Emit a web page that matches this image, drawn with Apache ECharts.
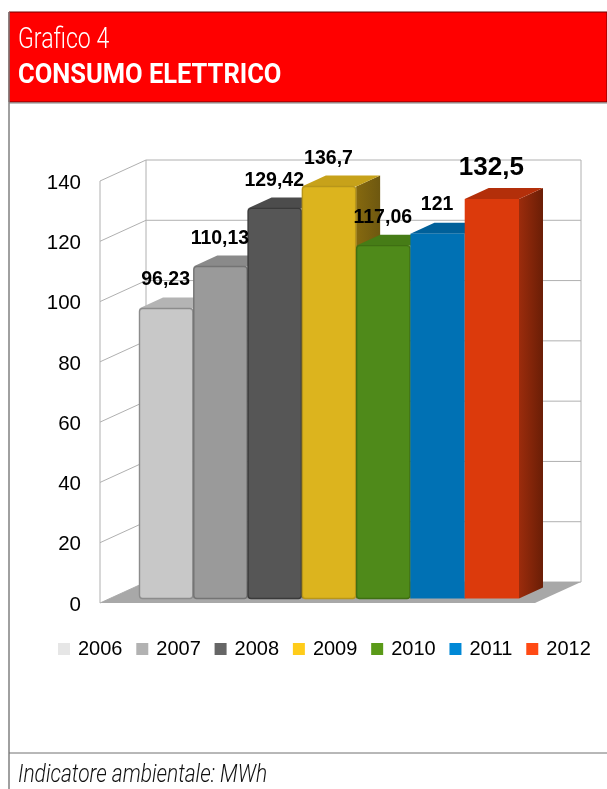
<!DOCTYPE html>
<html>
<head>
<meta charset="utf-8">
<title>Consumo elettrico</title>
<style>
html,body{margin:0;padding:0;background:#fff}
#chart{width:607px;height:789px}
</style>
<script src="https://cdn.jsdelivr.net/npm/echarts@6/dist/echarts.min.js"></script>
</head>
<body>
<div id="chart"></div>
<script>
// Annual electricity use in MWh
const years = ['2006', '2007', '2008', '2009', '2010', '2011', '2012'];
const consumption = [96.23, 110.13, 129.42, 136.7, 117.06, 121, 132.5];
const valueTicks = [0, 20, 40, 60, 80, 100, 120, 140];

// Face colours of each cuboid
const legendColors = ['#e6e6e6', '#b2b2b2', '#666666', '#ffcc1a', '#5a9a18', '#0088d6', '#ff4a14'];
const frontColors = ['#c8c8c8', '#9a9a9a', '#565656', '#dcb41e', '#4f8a1a', '#0071b4', '#dc3a0c'];
const topColors = ['#b4b4b4', '#8a8a8a', '#4c4c4c', '#c7a21a', '#467c16', '#00609a', '#b32f0a'];
const sideStart = ['#8a8a8a', '#707070', '#3c3c3c', '#86690f', '#39660f', '#00507f', '#9c2c0c'];
const sideEnd = ['#707070', '#5a5a5a', '#2e2e2e', '#6e5810', '#2d520c', '#003f66', '#6a1e06'];
const edgeColors = ['#8c8c8c', '#747474', '#3a3a3a', '#b8961a', '#3f6f12', null, null];

// Distance of each value label above its bar, in pixels
const labelLift = [33, 32, 32, 32, 33, 34, 36];

// Oblique projection used for the walls, the floor and the bars
const WALL_LEFT_GAP = 39, WALL_RIGHT_GAP = 16;
const WALL_DX = 46, WALL_DY = -21;
const BAR_DX = 24, BAR_DY = -11, BAR_LIFT = 4.5;
const WALL_COLOR = '#b0b0b0', FLOOR_COLOR = '#a8a8a8';
const SANS = '"Liberation Sans", Arial, sans-serif';

const chart = echarts.init(document.getElementById('chart'), null, {renderer: 'canvas'});

function renderWall(params, api) {
  const g = params.coordSys;
  const y = api.coord([0, api.value(0)])[1];
  const left = g.x - WALL_LEFT_GAP;
  const right = g.x + g.width + WALL_RIGHT_GAP;
  const children = [{
    type: 'polyline',
    shape: {points: [[left, y], [left + WALL_DX, y + WALL_DY], [right + WALL_DX, y + WALL_DY]]},
    style: {stroke: WALL_COLOR, lineWidth: 1, fill: null}
  }];
  if (params.dataIndex === 0) {
    const top = g.y;
    children.push(
      {type: 'line', shape: {x1: left, y1: y, x2: left, y2: top}, style: {stroke: WALL_COLOR, lineWidth: 1}},
      {type: 'line', shape: {x1: left + WALL_DX, y1: y + WALL_DY, x2: left + WALL_DX, y2: top + WALL_DY}, style: {stroke: WALL_COLOR, lineWidth: 1}},
      {type: 'line', shape: {x1: right + WALL_DX, y1: y + WALL_DY, x2: right + WALL_DX, y2: top + WALL_DY}, style: {stroke: WALL_COLOR, lineWidth: 1}},
      {type: 'polygon', shape: {points: [[left, y], [left + WALL_DX, y + WALL_DY], [right + WALL_DX, y + WALL_DY], [right, y]]}, style: {fill: FLOOR_COLOR}}
    );
  }
  return {type: 'group', children};
}

function renderBar(index) {
  return function (params, api) {
    const top = api.coord([api.value(0), api.value(1)]);
    const base = api.coord([api.value(0), 0]);
    const w = api.size([1, 0])[0];
    const x0 = top[0] - w / 2, x1 = top[0] + w / 2;
    const yT = top[1] - BAR_LIFT, yB = base[1] - BAR_LIFT;
    const edge = edgeColors[index];
    return {
      type: 'group',
      children: [
        {
          type: 'polygon',
          shape: {points: [[x1, yT], [x1 + BAR_DX, yT + BAR_DY], [x1 + BAR_DX, yB + BAR_DY], [x1, yB]]},
          style: {fill: new echarts.graphic.LinearGradient(0, 0, 1, 0, [
            {offset: 0, color: sideStart[index]}, {offset: 1, color: sideEnd[index]}
          ])}
        },
        {
          type: 'polygon',
          shape: {points: [[x0, yT], [x0 + BAR_DX, yT + BAR_DY], [x1 + BAR_DX, yT + BAR_DY], [x1, yT]]},
          style: {fill: topColors[index]}
        },
        {
          type: 'rect',
          shape: edge ? {x: x0 + 0.5, y: yT, width: w - 1, height: yB - yT, r: 3} : {x: x0, y: yT, width: w, height: yB - yT},
          style: edge ? {fill: frontColors[index], stroke: edge, lineWidth: 1.4} : {fill: frontColors[index]}
        }
      ]
    };
  };
}

// Value labels sit on a layer of their own, above every bar
function renderLabel(params, api) {
  const p = api.coord([api.value(0), api.value(1)]);
  const last = params.dataIndex === years.length - 1;
  return {
    type: 'text',
    x: p[0] - 0.5,
    y: p[1] - labelLift[params.dataIndex],
    style: {
      text: String(api.value(1)).replace('.', ','),
      fontFamily: SANS,
      fontWeight: 'bold',
      fontSize: last ? 26 : 19.5,
      fill: '#000',
      align: 'center',
      verticalAlign: 'middle'
    }
  };
}

const barSeries = years.map((year, i) => ({
  name: year,
  type: 'custom',
  coordinateSystem: 'cartesian2d',
  z: 3 + i,
  itemStyle: {color: legendColors[i]},
  data: [[i, consumption[i]]],
  encode: {x: 0, y: 1},
  renderItem: renderBar(i)
}));

chart.setOption({
  animation: false,
  backgroundColor: '#fff',
  grid: {left: 139, top: 181, width: 380, height: 422, containLabel: false},
  xAxis: {type: 'category', data: years, show: false},
  yAxis: {
    type: 'value', min: 0, max: 140, interval: 20, offset: 39,
    axisLine: {show: false}, axisTick: {show: false}, splitLine: {show: false},
    axisLabel: {margin: 19, fontFamily: SANS, fontSize: 20.5, color: '#000', verticalAlign: 'top', lineHeight: 4}
  },
  legend: {
    data: years,
    left: 58, top: 639, width: 549, padding: 0,
    icon: 'rect',
    itemWidth: 12, itemHeight: 12, itemGap: 13.8,
    textStyle: {fontFamily: SANS, fontSize: 20, color: '#000', padding: [0, 0, 0, 3]}
  },
  graphic: [
    {type: 'rect', z: 0, shape: {x: 9, y: 12, width: 598, height: 90}, style: {fill: '#ff0000', stroke: '#700000', lineWidth: 1}},
    {type: 'line', z: 1, shape: {x1: 9, y1: 12, x2: 9, y2: 789}, style: {stroke: '#808080', lineWidth: 1.5}},
    {type: 'line', z: 1, shape: {x1: 9, y1: 103, x2: 607, y2: 103}, style: {stroke: '#808080', lineWidth: 1}},
    {type: 'line', z: 1, shape: {x1: 9, y1: 753, x2: 607, y2: 753}, style: {stroke: '#707070', lineWidth: 1}},
    {type: 'text', z: 2, x: 18, y: 40, scaleX: 0.77, style: {text: 'Grafico 4', fontFamily: 'Roboto, sans-serif', fontWeight: 300, fontSize: 30, fill: '#fff', verticalAlign: 'middle'}},
    {type: 'text', z: 2, x: 18, y: 76, scaleX: 0.91, style: {text: 'CONSUMO ELETTRICO', fontFamily: 'Roboto, sans-serif', fontWeight: 'bold', fontSize: 28, fill: '#fff', verticalAlign: 'middle'}},
    {type: 'text', z: 2, x: 18, y: 776, scaleX: 0.838, style: {text: 'Indicatore ambientale: MWh', fontFamily: 'Roboto, sans-serif', fontStyle: 'italic', fontWeight: 300, fontSize: 25, fill: '#111', verticalAlign: 'middle'}}
  ],
  series: [
    {
      name: 'pareti', type: 'custom', coordinateSystem: 'cartesian2d', z: 1,
      data: valueTicks.map(v => [v]), encode: {y: 0}, renderItem: renderWall, silent: true
    },
    ...barSeries,
    {
      name: 'etichette', type: 'custom', coordinateSystem: 'cartesian2d', z: 20,
      data: consumption.map((v, i) => [i, v]), encode: {x: 0, y: 1}, renderItem: renderLabel, silent: true
    }
  ]
});
</script>
</body>
</html>
